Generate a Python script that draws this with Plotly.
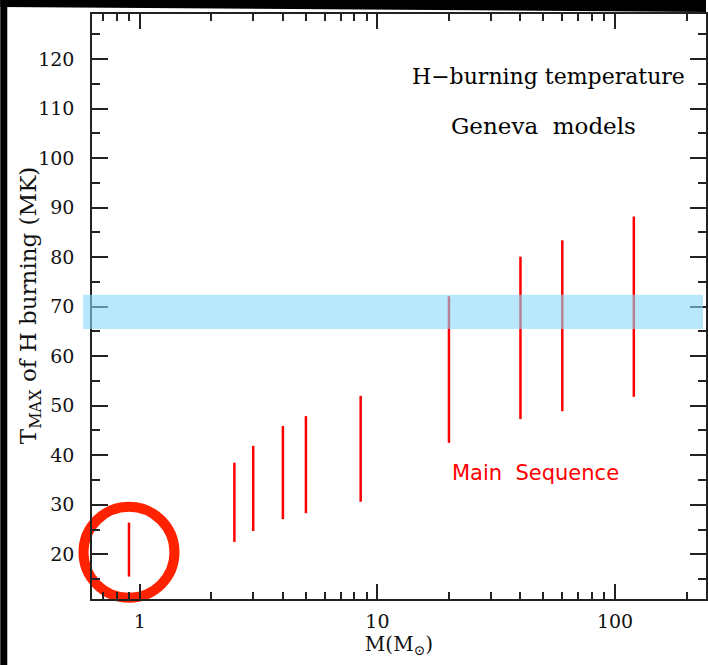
import plotly.graph_objects as go

# Data
masses = [0.9, 2.5, 3, 4, 5, 8.5, 20, 40, 60, 120]
t_low = [15.5, 22.5, 24.7, 27.1, 28.3, 30.6, 42.5, 47.3, 48.9, 51.8]
t_high = [26.4, 38.5, 41.9, 45.9, 47.9, 52.0, 72.1, 80.1, 83.4, 88.2]
band_low, band_high = 65.5, 72.4
highlight_mass, highlight_t = 0.9, 20.4
x_ticks = [1, 10, 100]
x_minor = [0.7, 0.8, 0.9, 2, 3, 4, 5, 6, 7, 8, 9, 20, 30, 40, 50, 60, 70, 80, 90, 200]

W, H = 708, 665
L, R, T, B = 92, 0, 14, 66
pw, ph = W - L - R, H - T - B

def px(x):
    return (x - L) / pw

def py(y):
    return (H - B - y) / ph

xs, ys = [], []
for m, lo, hi in zip(masses, t_low, t_high):
    xs += [m, m, None]
    ys += [lo, hi, None]

fig = go.Figure()
fig.add_trace(go.Scatter(x=xs, y=ys, mode="lines",
                         line=dict(color="#ff0000", width=2.5),
                         hoverinfo="skip", showlegend=False))
fig.add_trace(go.Scatter(x=[highlight_mass], y=[highlight_t], mode="markers",
                         cliponaxis=False,
                         marker=dict(symbol="circle-open", size=91,
                                     line=dict(color="#ff2200", width=10),
                                     color="#ff2200"),
                         hoverinfo="skip", showlegend=False))

serif = "DejaVu Serif"
axis_common = dict(showline=True, linecolor="#222", linewidth=1.5,
                   mirror="ticks", ticks="inside", tickcolor="#222",
                   tickwidth=1.5, showgrid=False, zeroline=False,
                   tickfont=dict(family=serif, size=19, color="#111"))

fig.update_xaxes(type="log", range=[-0.2014, 2.383], tickvals=x_ticks,
                 ticktext=[str(v) for v in x_ticks], ticklen=15,
                 ticklabelstandoff=4,
                 minor=dict(tickvals=x_minor, ticks="inside", ticklen=7,
                            tickwidth=1.5, tickcolor="#222"),
                 title=dict(text="M(M<sub>⊙</sub>)", font=dict(family=serif, size=20, color="#111"),
                            standoff=0),
                 **axis_common)
fig.update_yaxes(range=[10.97, 129.1], tick0=0, dtick=10, ticklen=16,
                 ticklabelstandoff=12,
                 minor=dict(dtick=5, ticks="inside", ticklen=8, tickwidth=1.5,
                            tickcolor="#222"),
                 **axis_common)

shapes = [
    # black frame strips of the original slide
    dict(type="path", xref="paper", yref="paper", layer="above",
         path=f"M {px(0)} {py(0)} L {px(W)} {py(0)} L {px(W)} {py(12)} L {px(0)} {py(7)} Z",
         fillcolor="black", line=dict(width=0)),
    dict(type="rect", xref="paper", yref="paper", layer="above",
         x0=px(0), x1=px(7), y0=py(H), y1=py(0), fillcolor="black", line=dict(width=0)),
    # cyan band
    dict(type="rect", xref="paper", yref="y", layer="above",
         x0=px(83), x1=px(705), y0=band_low, y1=band_high,
         fillcolor="rgba(137,217,250,0.6)", line=dict(width=0)),
]

annotations = [
    dict(text="T<sub>MAX</sub> of H burning (MK)", x=px(30), y=py(306),
         xref="paper", yref="paper", textangle=-90, xanchor="center", yanchor="middle",
         showarrow=False, font=dict(family=serif, size=23, color="#111")),
    dict(text="H\u2212burning temperature", x=px(550), y=py(77), xref="paper", yref="paper",
         xanchor="center", yanchor="middle",
         showarrow=False, font=dict(family=serif, size=22, color="black")),
    dict(text="Geneva  models", x=px(545), y=py(126), xref="paper", yref="paper",
         xanchor="center", yanchor="middle",
         showarrow=False, font=dict(family=serif, size=23, color="black")),
    dict(text="Main  Sequence", x=px(537), y=py(473), xref="paper", yref="paper",
         xanchor="center", yanchor="middle",
         showarrow=False, font=dict(family="DejaVu Sans", size=21, color="#ff0000")),
]

fig.update_layout(width=W, height=H, margin=dict(l=L, r=R, t=T, b=B),
                  paper_bgcolor="white", plot_bgcolor="white",
                  shapes=shapes, annotations=annotations, showlegend=False)

fig.write_html("out.html")
